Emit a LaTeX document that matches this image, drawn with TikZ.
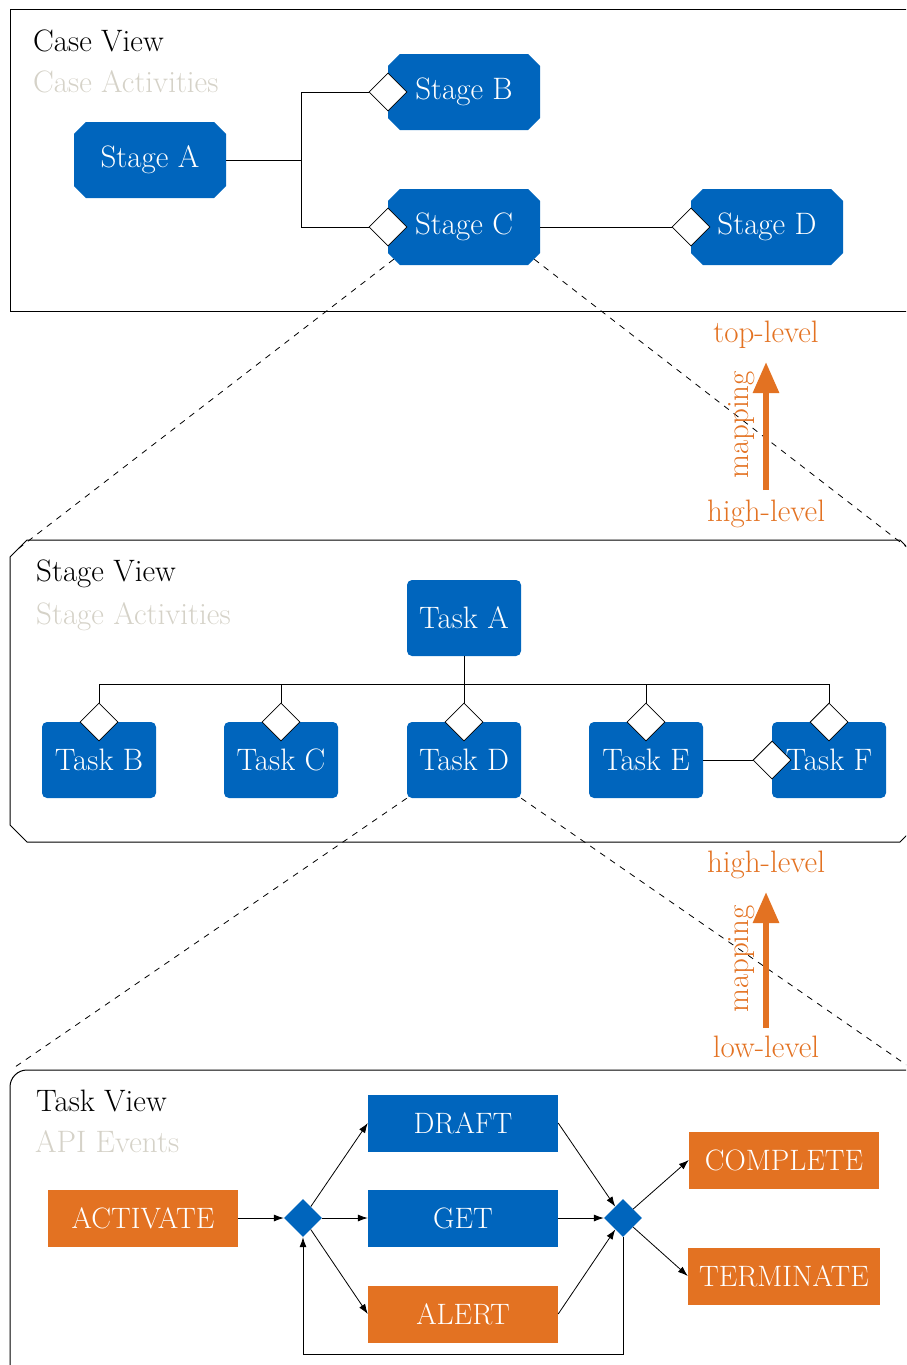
\documentclass[tikz,border=0pt]{standalone}
\usetikzlibrary{shapes.misc,shapes.geometric,arrows.meta}

\definecolor{tblue}{HTML}{0065BD}
\definecolor{torange}{HTML}{E37222}
\definecolor{tgray}{HTML}{D5D2C8}

\tikzset{
  lbl/.style={font=\fontsize{31}{36}\selectfont, inner sep=0pt},
  caps/.style={font=\fontsize{29.5}{35}\selectfont},
  frame/.style={draw=black, line width=1pt},
  zoomline/.style={draw=black, line width=0.8pt, dash pattern=on 6pt off 6pt},
  stagebox/.style={lbl, chamfered rectangle, chamfered rectangle xsep=9pt,
    fill=tblue, text=white, minimum width=152pt, minimum height=76pt},
  taskbox/.style={lbl, rectangle, rounded corners=5pt, fill=tblue, text=white,
    minimum width=114pt, minimum height=76pt},
  eventbox/.style={lbl, caps, rectangle, text=white, minimum width=190pt, minimum height=57pt},
  gate/.style={diamond, aspect=1, inner sep=0pt, minimum width=38pt, minimum height=38pt,
    fill=white, draw=black, line width=0.8pt},
  xgate/.style={diamond, aspect=1, inner sep=0pt, minimum width=38pt, minimum height=38pt,
    fill=tblue},
  link/.style={draw=black, line width=0.8pt},
  flow/.style={draw=black, line width=0.8pt, -{Latex[length=10pt,width=7pt]}},
  maplbl/.style={lbl, text=torange},
  maparrow/.style={draw=torange, line width=6pt, -{Triangle[length=31pt,width=25pt]}},
}

\begin{document}
\begin{tikzpicture}[x=1pt, y=-1pt]
\useasboundingbox (0,0) rectangle (906,1365);
\clip (0,0) rectangle (906,1365);

% ---------------- Case view ----------------
\draw[frame] (10,9) rectangle (925,311);
\node[lbl, anchor=base west] (caseTitle) at (33,51) {Case View};
\node[lbl, anchor=base west, text=tgray] (caseSub) at (33,92) {Case Activities};

\node[stagebox] (stageA) at (150,160) {Stage A};
\node[stagebox] (stageB) at (464,92) {Stage B};
\node[stagebox] (stageC) at (464,227) {Stage C};
\node[stagebox] (stageD) at (767,227) {Stage D};

\node[gate] (gB) at (388,92) {};
\node[gate] (gC) at (388,227) {};
\node[gate] (gD) at (691,227) {};

\draw[link] (stageA.east) -- ++(75,0) coordinate (split);
\draw[link] (gB.west) -| (split) |- (gC.west);
\draw[link] (stageC.east) -- (gD.west);

% ---------------- Stage view ----------------
\draw[frame] (10,557) -- (27,540) -- (900,540) -- (917,557) -- (917,825)
  -- (900,842) -- (27,842) -- (10,825) -- cycle;
\coordinate (stageNW) at (18.5,548.5);
\coordinate (stageNE) at (908.5,548.5);
\node[lbl, anchor=base west] (stageTitle) at (36,581) {Stage View};
\node[lbl, anchor=base west, text=tgray] (stageSub) at (36,624) {Stage Activities};

\node[taskbox] (taskA) at (464,618) {Task A};
\node[taskbox] (taskB) at (99,760) {Task B};
\node[taskbox] (taskC) at (281,760) {Task C};
\node[taskbox] (taskD) at (464,760) {Task D};
\node[taskbox] (taskE) at (646,760) {Task E};
\node[taskbox] (taskF) at (829,760) {Task F};

\node[gate] (tgB) at (99,722) {};
\node[gate] (tgC) at (281,722) {};
\node[gate] (tgD) at (464,722) {};
\node[gate] (tgE) at (646,722) {};
\node[gate] (tgF) at (829,722) {};
\node[gate] (tgFE) at (772,760) {};

\draw[link] (taskA.south) -- (tgD.north);
\draw[link] (tgB.north) -- ++(0,-18) coordinate (bus) -| (tgF.north);
\draw[link] (tgC.north) -- (tgC.north |- bus);
\draw[link] (tgE.north) -- (tgE.north |- bus);
\draw[link] (taskE.east) -- (tgFE.west);

% ---------------- Task view ----------------
\draw[frame, rounded corners=17pt] (10,1070) rectangle (930,1400);
\coordinate (taskNW) at (15,1067);
\coordinate (taskNE) at (908,1066);
\node[lbl, anchor=base west] (taskTitle) at (36,1111) {Task View};
\node[lbl, anchor=base west, text=tgray] (taskSub) at (35,1152) {API Events};

\node[eventbox, fill=torange] (activate) at (143,1218) {ACTIVATE};
\node[eventbox, fill=tblue] (draft) at (463,1123) {DRAFT};
\node[eventbox, fill=tblue] (get) at (463,1218) {GET};
\node[eventbox, fill=torange] (alert) at (463,1314) {ALERT};
\node[eventbox, fill=torange] (complete) at (784,1160) {COMPLETE};
\node[eventbox, fill=torange, minimum width=192pt] (terminate) at (784,1276) {TERMINATE};

\node[xgate] (split1) at (303,1218) {};
\node[xgate] (join1) at (623,1218) {};

\draw[flow] (activate.east) -- (split1.west);
\draw[flow] (split1) -- (draft.west);
\draw[flow] (split1.east) -- (get.west);
\draw[flow] (split1) -- (alert.west);
\draw[flow] (draft.east) -- (join1);
\draw[flow] (get.east) -- (join1.west);
\draw[flow] (alert.east) -- (join1);
\draw[flow] (join1) -- (complete.west);
\draw[flow] (join1) -- (terminate.west);
\draw[flow] (join1.south) -- ++(0,117) -| (split1.south);

% ---------------- zoom lines between the views ----------------
\draw[zoomline] (stageC.south west) -- (stageNW);
\draw[zoomline] (stageC.south east) -- (stageNE);
\draw[zoomline] (taskD.south west) -- (taskNW);
\draw[zoomline] (taskD.south east) -- (taskNE);

% ---------------- abstraction mapping ----------------
\node[maplbl, anchor=base] (top1) at (766,342) {top-level};
\node[maplbl, anchor=base] (high1) at (766,521) {high-level};
\node[maplbl, anchor=base, rotate=90] (map1) at (748,425) {mapping};
\coordinate (m1s) at (766,490);
\coordinate (m1e) at (766,362);
\draw[maparrow] (m1s) -- (m1e);

\node[maplbl, anchor=base] (high2) at (766,872) {high-level};
\node[maplbl, anchor=base] (low2) at (766,1057) {low-level};
\node[maplbl, anchor=base, rotate=90] (map2) at (748,959) {mapping};
\coordinate (m2s) at (766,1028);
\coordinate (m2e) at (766,892);
\draw[maparrow] (m2s) -- (m2e);
\end{tikzpicture}
\end{document}
